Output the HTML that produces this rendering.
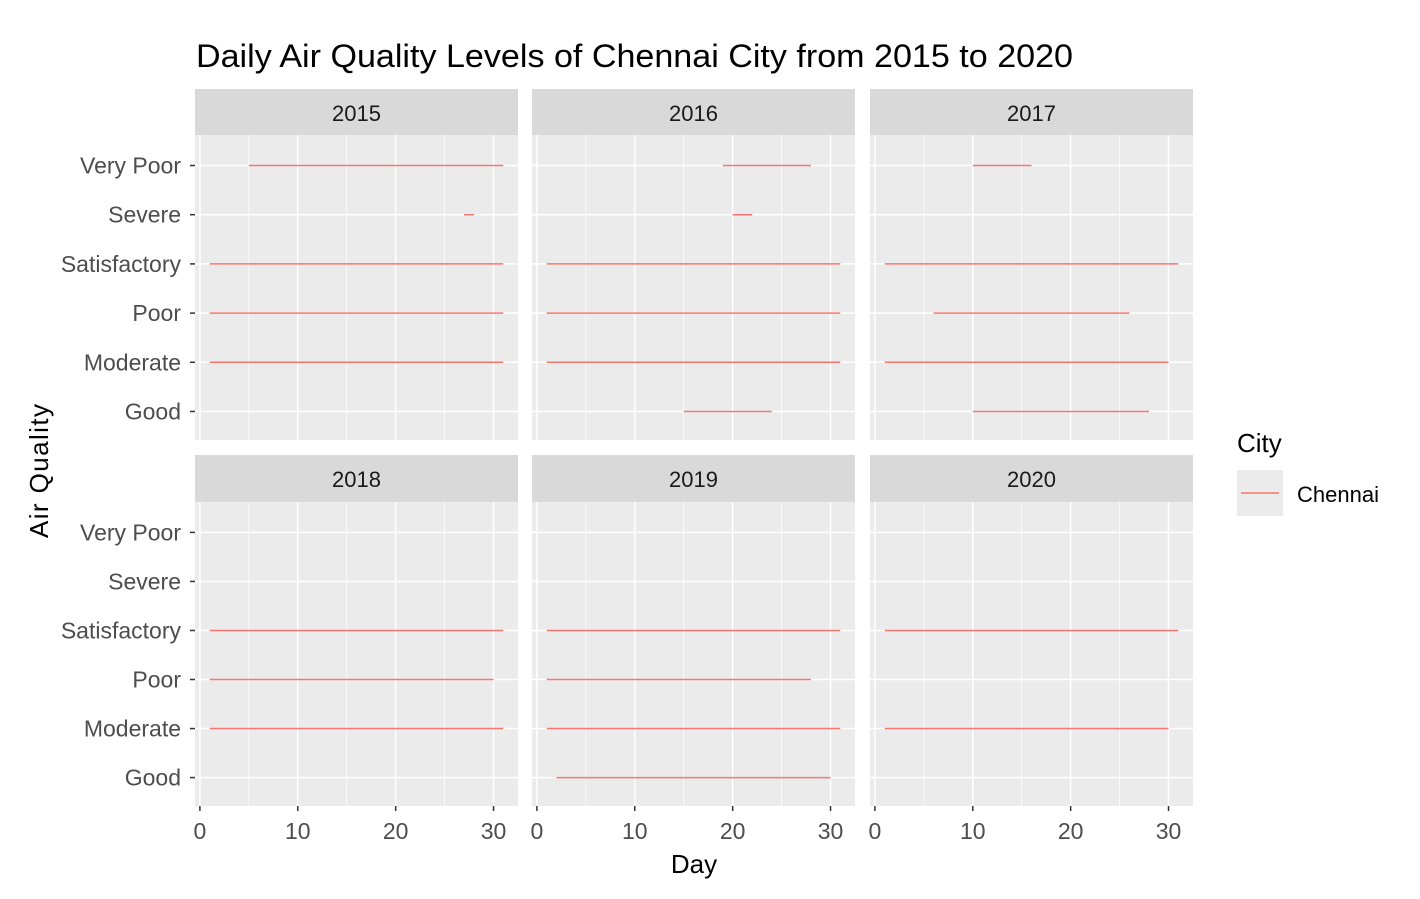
<!DOCTYPE html>
<html><head><meta charset="utf-8"><style>
body{margin:0;background:#fff;font-family:"Liberation Sans",Arial,sans-serif}
</style></head><body>
<svg id="chart" width="1420" height="894" xmlns="http://www.w3.org/2000/svg" font-family="Liberation Sans, Arial, sans-serif">
<text x="196" y="67" font-size="32" fill="#000" textLength="877" lengthAdjust="spacingAndGlyphs">Daily Air Quality Levels of Chennai City from 2015 to 2020</text>
<text x="694" y="873" font-size="26" text-anchor="middle">Day</text>
<text transform="translate(48,471) rotate(-90)" font-size="26" text-anchor="middle" textLength="134">Air Quality</text>
<g>
<text x="1237" y="452" font-size="26">City</text>
<rect x="1237" y="470" width="46" height="46" fill="#ebebeb"/>
<line x1="1241" y1="493" x2="1279" y2="493" stroke="#f8766d" stroke-width="1.5"/>
<text x="1297" y="502" font-size="22">Chennai</text>
</g>
<g id="panels"></g>
</svg>
<script>
const years=["2015","2016","2017","2018","2019","2020"];
const categories=["Good","Moderate","Poor","Satisfactory","Severe","Very Poor"];
const xTicks=[0,10,20,30];
// segments per year: [category, startDay, endDay]
const seg2015=[["Very Poor",5,31],["Severe",27,28],["Satisfactory",1,31],["Poor",1,31],["Moderate",1,31]];
const seg2016=[["Very Poor",19,28],["Severe",20,22],["Satisfactory",1,31],["Poor",1,31],["Moderate",1,31],["Good",15,24]];
const seg2017=[["Very Poor",10,16],["Satisfactory",1,31],["Poor",6,26],["Moderate",1,30],["Good",10,28]];
const seg2018=[["Satisfactory",1,31],["Poor",1,30],["Moderate",1,31]];
const seg2019=[["Satisfactory",1,31],["Poor",1,28],["Moderate",1,31],["Good",2,30]];
const seg2020=[["Satisfactory",1,31],["Moderate",1,30]];
const segments=[seg2015,seg2016,seg2017,seg2018,seg2019,seg2020];

const NS="http://www.w3.org/2000/svg";
const g=document.getElementById("panels");
function mk(t,a){const e=document.createElementNS(NS,t);for(const k in a)e.setAttribute(k,a[k]);g.appendChild(e);return e;}
const colX=[195,532,870],pw=323;
const rowStrip=[89,455],rowTop=[135,502],ph=[305,304];
for(let i=0;i<6;i++){
 const c=i%3,r=Math.floor(i/3);
 const x0=colX[c],y0=rowTop[r],h=ph[r];
 const xs=d=>x0+(d+0.5)/33*pw;
 const ys=cat=>y0+h-(categories.indexOf(cat)+0.6)/6.2*h+1;
 const strip=mk("rect",{x:x0,y:rowStrip[r],width:pw,height:y0-rowStrip[r],fill:"#d9d9d9"});
 
 
 const st=mk("text",{x:x0+pw/2,y:rowStrip[r]+32,"font-size":22,"text-anchor":"middle",fill:"#1a1a1a"});
 st.textContent=years[i];
 
 
 const bg=mk("rect",{x:x0,y:y0,width:pw,height:h,fill:"#ebebeb"});
 
 
 [5,15,25].forEach(d=>{const l=mk("line",{x1:xs(d),x2:xs(d),y1:y0,y2:y0+h,stroke:"#fff","stroke-width":0.7});});
 xTicks.forEach(d=>{const l=mk("line",{x1:xs(d),x2:xs(d),y1:y0,y2:y0+h,stroke:"#fff","stroke-width":1.5});});
 categories.forEach(cat=>{const l=mk("line",{x1:x0,x2:x0+pw,y1:ys(cat),y2:ys(cat),stroke:"#fff","stroke-width":1.5});});
 segments[i].forEach(s=>{const l=mk("line",{x1:xs(s[1]),x2:xs(s[2]),y1:ys(s[0]),y2:ys(s[0]),stroke:"#f8766d","stroke-width":1.5});
  
  });
 if(c===0){categories.forEach(cat=>{
  const t=mk("line",{x1:x0-5,x2:x0,y1:ys(cat),y2:ys(cat),stroke:"#333","stroke-width":1.5});
  
  const tx=mk("text",{x:x0-14,y:ys(cat)+8,"font-size":23,"text-anchor":"end",fill:"#4d4d4d"});
  tx.textContent=cat;
  });}
 if(r===1){xTicks.forEach(d=>{
  const t=mk("line",{x1:xs(d),x2:xs(d),y1:y0+h,y2:y0+h+5,stroke:"#333","stroke-width":1.5});
  
  const tx=mk("text",{x:xs(d),y:y0+h+33,"font-size":23,"text-anchor":"middle",fill:"#4d4d4d"});
  tx.textContent=d;
  });}
}
</script>
</body></html>
